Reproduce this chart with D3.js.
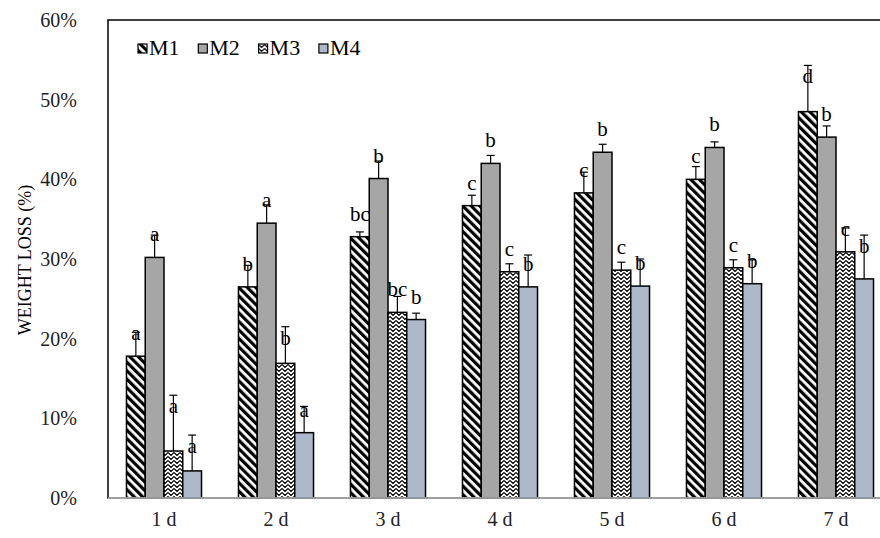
<!DOCTYPE html>
<html>
<head>
<meta charset="utf-8">
<script src="https://cdn.jsdelivr.net/npm/d3@7"></script>
<style>
  html, body { margin: 0; padding: 0; background: #fff; }
  svg { display: block; }
  svg text { font-family: "Liberation Serif", "Times New Roman", serif; }
</style>
</head>
<body>
<svg id="chart" width="880" height="538"></svg>
<script>
// Days of storage
const days = ["1 d", "2 d", "3 d", "4 d", "5 d", "6 d", "7 d"];
const seriesNames = ["M1", "M2", "M3", "M4"];

// Mean weight loss (%) per treatment
const m1 = [17.8, 26.5, 32.8, 36.7, 38.3, 40.0, 48.5];
const m2 = [30.2, 34.5, 40.1, 42.0, 43.4, 44.0, 45.3];
const m3 = [5.9, 16.9, 23.3, 28.4, 28.6, 28.9, 30.9];
const m4 = [3.4, 8.2, 22.4, 26.5, 26.6, 26.9, 27.5];

// Standard deviations (upper error bars)
const m1Err = [3.0, 2.7, 0.6, 1.3, 2.6, 1.6, 5.8];
const m2Err = [2.8, 2.3, 2.2, 1.0, 1.0, 0.7, 1.4];
const m3Err = [7.0, 4.6, 2.0, 1.0, 1.0, 1.0, 3.0];
const m4Err = [4.5, 3.3, 0.8, 4.0, 3.4, 3.0, 5.5];

// Significance letters
const m1Sig = ["a", "b", "bc", "c", "c", "c", "d"];
const m2Sig = ["a", "a", "b", "b", "b", "b", "b"];
const m3Sig = ["a", "b", "bc", "c", "c", "c", "c"];
const m4Sig = ["a", "a", "b", "b", "b", "b", "b"];

const yTicks = [0, 10, 20, 30, 40, 50, 60];

const values = [m1, m2, m3, m4];
const errors = [m1Err, m2Err, m3Err, m4Err];
const letters = [m1Sig, m2Sig, m3Sig, m4Sig];

const svg = d3.select("#chart");
const defs = svg.append("defs");

// Wide downward diagonal stripes
const pStripe = defs.append("pattern")
  .attr("id", "pat-m1").attr("patternUnits", "userSpaceOnUse")
  .attr("width", 6).attr("height", 6)
  .attr("patternTransform", "rotate(-45)");
pStripe.append("rect").attr("width", 6).attr("height", 6).attr("fill", "#fff");
pStripe.append("rect").attr("width", 3.2).attr("height", 6).attr("fill", "#000");

// Small zigzag texture
const pZig = defs.append("pattern")
  .attr("id", "pat-m3").attr("patternUnits", "userSpaceOnUse")
  .attr("width", 6).attr("height", 4);
pZig.append("rect").attr("width", 6).attr("height", 4).attr("fill", "#fff");
pZig.append("path")
  .attr("d", "M0,0.5 L3,3.5 L6,0.5")
  .attr("fill", "none").attr("stroke", "#000").attr("stroke-width", 1.2);

const fills = ["url(#pat-m1)", "#a6a6a6", "url(#pat-m3)", "#adb9ca"];

const x = d3.scaleBand().domain(days).range([108, 892])
  .paddingInner(0.33).paddingOuter(0.165);
const xs = d3.scaleBand().domain(seriesNames).range([0, x.bandwidth()]);
const y = d3.scaleLinear().domain([0, 60]).range([498, 20]);

// Plot area frame (right edge runs past the page)
svg.append("rect")
  .attr("x", x.range()[0]).attr("y", y(60))
  .attr("width", x.range()[1] - x.range()[0]).attr("height", y(0) - y(60))
  .attr("fill", "none").attr("stroke", "#000").attr("stroke-width", 1.5);

// Bars, error bars and letters
seriesNames.forEach((name, si) => {
  const g = svg.append("g");
  days.forEach((d, i) => {
    const v = values[si][i];
    const e = errors[si][i];
    const x0 = x(d) + xs(name);
    const cx = x0 + xs.bandwidth() / 2;
    g.append("rect")
      .attr("x", x0).attr("y", y(v))
      .attr("width", xs.bandwidth()).attr("height", y(0) - y(v))
      .attr("fill", fills[si]).attr("stroke", "#000").attr("stroke-width", 1.5);
    g.append("line")
      .attr("x1", cx).attr("x2", cx).attr("y1", y(v)).attr("y2", y(v + e))
      .attr("stroke", "#000").attr("stroke-width", 1.2);
    g.append("line")
      .attr("x1", cx - 4).attr("x2", cx + 4).attr("y1", y(v + e)).attr("y2", y(v + e))
      .attr("stroke", "#000").attr("stroke-width", 1.2);
    const ly = Math.min(y(v) - 22, y(v + e) + 12);
    g.append("text")
      .attr("x", cx).attr("y", ly + 6)
      .attr("text-anchor", "middle")
      .attr("font-size", 21).attr("fill", "#000")
      .text(letters[si][i]);
  });
});

// X axis
const xAxis = svg.append("g").attr("transform", `translate(0,${y(0)})`)
  .call(d3.axisBottom(x).tickSize(0).tickPadding(14));
xAxis.select(".domain").attr("stroke", "#bfbfbf").attr("stroke-width", 1.5)
  .attr("d", `M${x.range()[0]},0H${x.range()[1]}`);
xAxis.selectAll("text").attr("font-family", "Liberation Serif, serif")
  .attr("font-size", 20).attr("fill", "#222");

// Y axis labels
const yAxis = svg.append("g").attr("transform", `translate(${x.range()[0]},0)`)
  .call(d3.axisLeft(y).tickValues(yTicks).tickSize(0).tickPadding(31)
    .tickFormat(d => d + "%"));
yAxis.select(".domain").remove();
yAxis.selectAll("text").attr("font-family", "Liberation Serif, serif")
  .attr("font-size", 20).attr("fill", "#222");

// Y axis title
svg.append("text")
  .attr("transform", `translate(31,${(y(0) + y(60)) / 2 + 1}) rotate(-90)`)
  .attr("text-anchor", "middle")
  .attr("font-size", 18).attr("fill", "#000")
  .text("WEIGHT LOSS (%)");

// Legend
const legend = svg.append("g").attr("transform", "translate(138,44)");
seriesNames.forEach((name, si) => {
  const lg = legend.append("g").attr("transform", `translate(${si * 60.3},0)`);
  lg.append("rect").attr("x", 0).attr("y", 0).attr("width", 9).attr("height", 9)
    .attr("fill", fills[si]).attr("stroke", "#000").attr("stroke-width", 1.2);
  lg.append("text").attr("x", 11).attr("y", 11)
    .attr("font-size", 22).attr("fill", "#000").text(name);
});
</script>
</body>
</html>
